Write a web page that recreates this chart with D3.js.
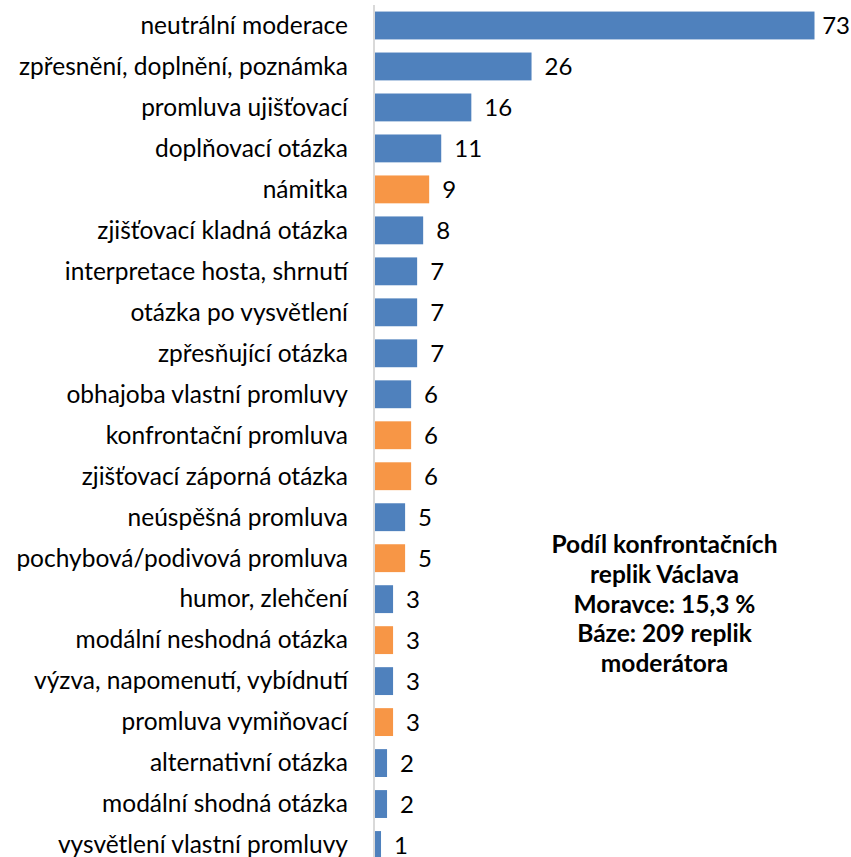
<!DOCTYPE html>
<html>
<head>
<meta charset="utf-8">
<script src="https://cdn.jsdelivr.net/npm/d3@7"></script>
<style>
  body { margin: 0; background: #fff; }
  svg { display: block; font-family: Lato, "Open Sans", sans-serif; }
</style>
</head>
<body>
<svg id="chart"></svg>
<script>
const categories = [
  "neutrální moderace", "zpřesnění, doplnění, poznámka", "promluva ujišťovací",
  "doplňovací otázka", "námitka", "zjišťovací kladná otázka",
  "interpretace hosta, shrnutí", "otázka po vysvětlení", "zpřesňující otázka",
  "obhajoba vlastní promluvy", "konfrontační promluva", "zjišťovací záporná otázka",
  "neúspěšná promluva", "pochybová/podivová promluva", "humor, zlehčení",
  "modální neshodná otázka", "výzva, napomenutí, vybídnutí", "promluva vymiňovací",
  "alternativní otázka", "modální shodná otázka", "vysvětlení vlastní promluvy"
];
const values = [73, 26, 16, 11, 9, 8, 7, 7, 7, 6, 6, 6, 5, 5, 3, 3, 3, 3, 2, 2, 1];
// 1 = konfrontační replika (oranžová)
const confrontational = [0, 0, 0, 0, 1, 0, 0, 0, 0, 0, 1, 1, 0, 1, 0, 1, 0, 1, 0, 0, 0];
const noteLines = ["Podíl konfrontačních", "replik Václava", "Moravce: 15,3 %", "Báze: 209 replik", "moderátora"];

const width = 851, height = 857;
const margin = { top: 5, left: 375 };

const svg = d3.select("#chart").attr("width", width).attr("height", height);

const x = d3.scaleLinear().domain([0, 73]).range([margin.left, 814.5]);
const y = d3.scaleBand().domain(categories).range([margin.top, 865.5]).paddingInner(0.32).paddingOuter(0.16);

const color = i => confrontational[i] ? "#f79646" : "#4f81bd";

svg.append("g")
  .selectAll("rect")
  .data(values)
  .join("rect")
    .attr("x", x(0))
    .attr("y", (d, i) => y(categories[i]))
    .attr("width", d => x(d) - x(0))
    .attr("height", y.bandwidth())
    .attr("fill", (d, i) => color(i));

// value labels (pushed back inside the picture when they would overflow)
svg.append("g")
  .selectAll("text")
  .data(values)
  .join("text")
    .attr("y", (d, i) => y(categories[i]) + y.bandwidth() / 2)
    .attr("dy", "0.36em")
    .attr("font-size", 24)
    .attr("fill", "#000")
    .text(d => d)
    .attr("x", function(d) {
      const w = this.getComputedTextLength();
      return Math.min(x(d) + 13, width - w - 1);
    });

// category axis
const yAxis = d3.axisLeft(y).tickSize(0).tickPadding(26);
const yAxisG = svg.append("g")
  .attr("transform", `translate(${margin.left - 1},0)`)
  .call(yAxis);
yAxisG.select(".domain").remove();
yAxisG.selectAll("text")
  .attr("font-size", 24.5)
  .attr("fill", "#000")
  .attr("font-family", "Lato, sans-serif")
  .attr("dy", "0.34em");

svg.append("line")
  .attr("x1", margin.left - 1).attr("x2", margin.left - 1)
  .attr("y1", 5).attr("y2", height)
  .attr("stroke", "#d9d9d9").attr("stroke-width", 2);

// note
svg.append("text")
  .attr("x", 664.5)
  .attr("y", 553)
  .attr("text-anchor", "middle")
  .attr("font-size", 24.5)
  .attr("font-weight", "bold")
  .selectAll("tspan")
  .data(noteLines)
  .join("tspan")
    .attr("x", 664.5)
    .attr("dy", (d, i) => i ? 29.8 : 0)
    .text(d => d);
</script>
</body>
</html>
